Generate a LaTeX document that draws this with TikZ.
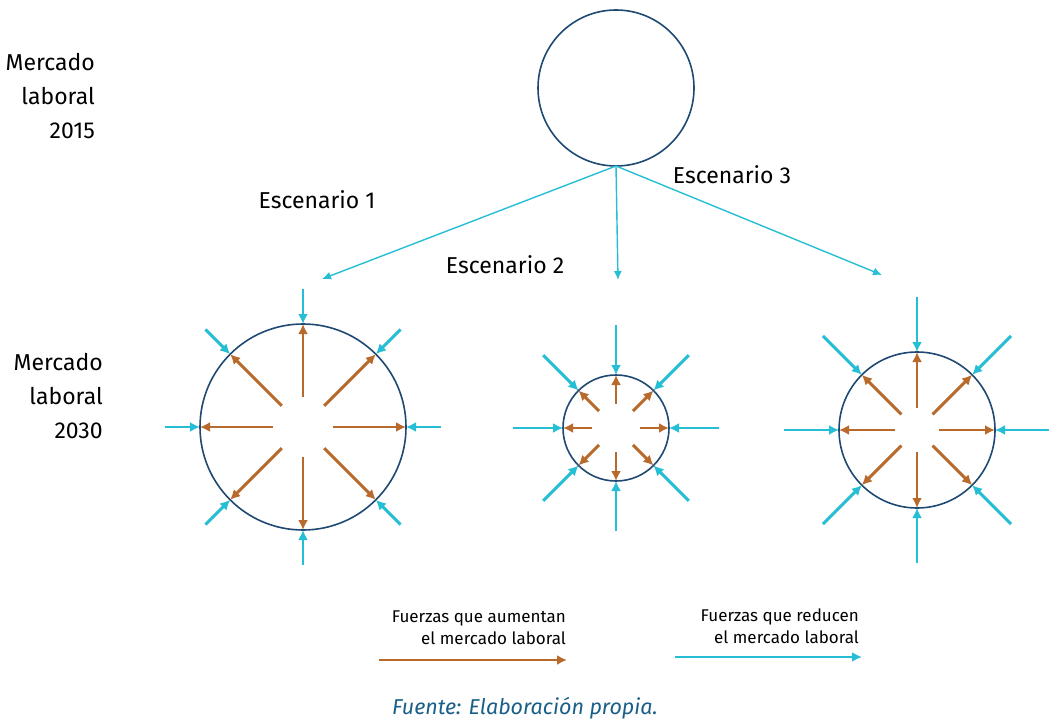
\documentclass[tikz,border=0pt]{standalone}
\usepackage{fontspec}
\setmainfont{Fira Sans}
\usetikzlibrary{arrows.meta,calc}
\definecolor{navy}{RGB}{31,73,115}
\definecolor{brn}{RGB}{184,106,44}
\definecolor{cyn}{RGB}{38,190,212}
\definecolor{foot}{RGB}{25,95,135}
\begin{document}
\begin{tikzpicture}[x=1pt,y=-1pt,
  market/.style={circle,draw=navy,line width=1.6pt,inner sep=0pt,outer sep=0pt},
  growarrow/.style={draw=brn,line width=2.9pt,-{Latex[length=10pt,width=10pt]}},
  shrinkarrow/.style={draw=cyn,line width=2.9pt,-{Latex[length=10pt,width=10pt]}},
  brancharrow/.style={draw=cyn,line width=1.4pt,-{Latex[length=9pt,width=8pt]}},
  lbl/.style={font=\fontsize{23}{34}\selectfont,align=right,anchor=east,inner sep=0pt},
  scen/.style={font=\fontsize{23}{28}\selectfont,inner sep=0pt},
  leg/.style={font=\fontsize{17}{22}\selectfont,align=right,anchor=east,inner sep=0pt},
  src/.style={font=\fontsize{21.5}{26}\selectfont\itshape,text=foot,inner sep=0pt}]
\useasboundingbox (0,0) rectangle (1049,722);
% top circle
\node[market,minimum size=156pt] (top) at (616,88) {};
\node[lbl] (l2015) at (95,96) {Mercado\\laboral\\2015};
\node[lbl] (l2030) at (103,396) {Mercado\\laboral\\2030};
% scenario circles
\node[market,minimum size=206pt] (c1) at (303,427) {};
\node[market,minimum size=106pt] (c2) at (616,428) {};
\node[market,minimum size=156pt] (c3) at (917,430) {};
% branches
\coordinate (e1) at (322,279);
\coordinate (e2) at (618,280);
\coordinate (e3) at (882,275);
\draw[brancharrow] (top.south) -- (e1);
\draw[brancharrow] (top.south) -- (e2);
\draw[brancharrow] (top.south) -- (e3);
\node[scen] (s1) at (317,200) {Escenario 1};
\node[scen] (s2) at (505,265) {Escenario 2};
\node[scen] (s3) at (732,175) {Escenario 3};
% radial forces
\foreach \c/\ri/\ro in {c1/30/138, c2/24/103, c3/22/133} {
  \foreach \a in {0,45,...,315} {
    \draw[growarrow] ($(\c.center)!\ri pt!(\c.\a)$) -- (\c.\a);
    \draw[shrinkarrow] ($(\c.center)!\ro pt!(\c.\a)$) -- (\c.\a);
  }
}
% legend
\node[leg] (ta) at (566,628) {Fuerzas que aumentan\\el mercado laboral};
\node[leg] (tb) at (859,626) {Fuerzas que reducen\\el mercado laboral};
\coordinate (la1) at (379,660);
\coordinate (la2) at (567,660);
\coordinate (lb1) at (675,657);
\coordinate (lb2) at (862,657);
\draw[growarrow] (la1) -- (la2);
\draw[shrinkarrow] (lb1) -- (lb2);
\node[src] (fuente) at (525,708) {Fuente: Elaboración propia.};
\end{tikzpicture}
\end{document}
